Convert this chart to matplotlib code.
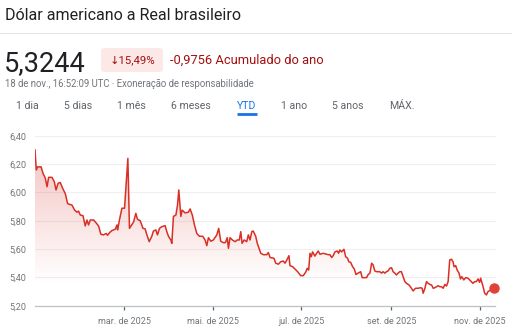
import numpy as np
import pandas as pd
import matplotlib
matplotlib.use("Agg")
import matplotlib.pyplot as plt
from matplotlib.patches import FancyBboxPatch
from matplotlib.lines import Line2D

plt.rcParams['font.family'] = ['Roboto', 'DejaVu Sans']

# ---------------- data ----------------
title = "Dólar americano a Real brasileiro"
price_text = "5,3244"
change_pct = "↓15,49%"
change_abs = "-0,9756 Acumulado do ano"
subtitle = "18 de nov., 16:52:09 UTC · Exoneração de responsabilidade"
tabs = ["1 dia", "5 dias", "1 mês", "6 meses", "YTD", "1 ano", "5 anos", "MÁX."]
active_tab = "YTD"

# days since 2025-01-01 and USD/BRL values
days = [-2.5, -1.6, -0.7, 1.7, 3.0, 4.6, 5.8, 6.9, 9.2, 10.8, 12.0, 13.4, 14.9, 16.5, 18.4,
        20.0, 23.0, 24.8, 26.4, 27.5, 28.7, 30.6, 32.1, 33.3, 34.4, 35.6, 37.9, 39.5, 41.3,
        42.9, 44.7, 46.6, 47.5, 48.9, 50.5, 52.8, 54.0, 54.4, 55.7, 57.4, 59.2, 61.5, 62.6,
        65.4, 67.0, 68.1, 70.0, 71.9, 73.4, 74.6, 76.2, 78.0, 79.1, 80.8, 81.9, 83.3, 84.9,
        87.2, 88.4, 89.5, 91.1, 91.8, 92.9, 94.6, 95.7, 96.6, 97.5, 98.0, 98.9, 100.9, 103.2,
        104.4, 105.9, 107.4, 109.0, 110.8, 113.1, 114.7, 115.9, 117.0, 118.7, 120.4, 122.8,
        124.1, 125.5, 127.3, 128.7, 130.0, 130.8, 131.9, 133.5, 135.4, 136.9, 138.3, 139.3,
        140.2, 141.6, 143.4, 144.5, 145.7, 146.9, 147.9, 149.6, 150.7, 152.1, 153.1, 154.9,
        157.2, 158.3, 159.5, 162.2, 163.4, 165.2, 166.8, 168.6, 169.8, 170.9, 172.5, 173.2,
        175.1, 176.6, 178.5, 180.6, 182.4, 184.2, 185.1, 186.1, 187.0, 187.9, 188.8, 190.4,
        191.6, 192.7, 193.9, 196.1, 198.5, 199.6, 200.8, 201.9, 203.0, 204.2, 205.8, 206.7,
        207.6, 208.8, 210.4, 211.6, 212.9, 213.8, 215.0, 216.4, 217.5, 218.7, 220.2, 221.9,
        223.0, 224.2, 226.0, 227.1, 228.3, 229.5, 230.5, 231.7, 232.9, 235.1, 236.3, 237.4,
        238.6, 239.7, 240.8, 242.0, 243.2, 244.3, 245.5, 246.6, 247.7, 248.9, 250.0, 251.2,
        252.4, 253.5, 255.3, 256.9, 258.1, 259.7, 261.5, 263.2, 264.3, 265.0, 266.2, 267.3,
        268.4, 269.6, 270.8, 271.9, 273.1, 274.2, 275.3, 276.5, 277.6, 278.8, 279.9, 281.1,
        282.2, 283.3, 284.5, 285.6, 286.3, 287.4, 288.4, 289.7, 290.7, 291.6, 293.0, 294.3,
        295.9, 297.1, 298.2, 299.3, 300.5, 301.7, 302.8, 303.9, 304.6, 305.6, 306.3, 307.4,
        308.6, 309.7, 311.4, 312.7, 313.8]
values = [6.300, 6.158, 6.180, 6.180, 6.135, 6.100, 6.040, 6.106, 6.106, 6.075, 6.017, 6.064,
          6.070, 6.030, 5.990, 5.920, 5.910, 5.875, 5.860, 5.868, 5.840, 5.835, 5.763, 5.805,
          5.770, 5.805, 5.805, 5.786, 5.763, 5.704, 5.700, 5.710, 5.697, 5.716, 5.730, 5.740,
          5.770, 5.735, 5.805, 5.888, 5.888, 6.240, 5.746, 5.790, 5.852, 5.810, 5.800, 5.746,
          5.742, 5.700, 5.652, 5.690, 5.727, 5.735, 5.700, 5.746, 5.758, 5.765, 5.720, 5.690,
          5.664, 5.640, 5.830, 5.840, 5.910, 6.017, 5.900, 5.830, 5.875, 5.855, 5.860, 5.883,
          5.840, 5.770, 5.710, 5.690, 5.690, 5.664, 5.624, 5.680, 5.655, 5.664, 5.700, 5.746,
          5.655, 5.645, 5.645, 5.680, 5.605, 5.680, 5.664, 5.652, 5.664, 5.664, 5.723, 5.640,
          5.664, 5.652, 5.700, 5.664, 5.723, 5.727, 5.690, 5.640, 5.600, 5.570, 5.560, 5.560,
          5.575, 5.540, 5.535, 5.500, 5.493, 5.510, 5.515, 5.500, 5.520, 5.553, 5.483, 5.475,
          5.460, 5.440, 5.412, 5.412, 5.440, 5.464, 5.452, 5.570, 5.546, 5.580, 5.550, 5.570,
          5.586, 5.563, 5.570, 5.563, 5.560, 5.560, 5.540, 5.553, 5.580, 5.586, 5.570, 5.593,
          5.580, 5.598, 5.546, 5.535, 5.510, 5.506, 5.475, 5.460, 5.420, 5.430, 5.440, 5.398,
          5.398, 5.398, 5.420, 5.430, 5.500, 5.488, 5.445, 5.440, 5.440, 5.430, 5.440, 5.430,
          5.440, 5.445, 5.464, 5.468, 5.440, 5.430, 5.417, 5.430, 5.440, 5.440, 5.405, 5.370,
          5.358, 5.346, 5.323, 5.304, 5.323, 5.323, 5.327, 5.323, 5.288, 5.323, 5.370, 5.358,
          5.350, 5.346, 5.323, 5.327, 5.334, 5.341, 5.334, 5.334, 5.323, 5.350, 5.339, 5.370,
          5.523, 5.528, 5.510, 5.475, 5.483, 5.452, 5.430, 5.389, 5.405, 5.382, 5.398, 5.394,
          5.382, 5.370, 5.358, 5.370, 5.370, 5.389, 5.365, 5.394, 5.358, 5.334, 5.288, 5.276,
          5.300, 5.310, 5.316, 5.3244]

tick_dates = ["2025-03-01", "2025-05-01", "2025-07-01", "2025-09-01", "2025-11-01"]
tick_labels = ["mar. de 2025", "mai. de 2025", "jul. de 2025", "set. de 2025", "nov. de 2025"]
y_ticks = [5.20, 5.40, 5.60, 5.80, 6.00, 6.20, 6.40]

# ---------------- figure ----------------
W, H = 512, 335
fig = plt.figure(figsize=(W / 100, H / 100), dpi=100)
fig.patch.set_facecolor("white")

def fx(px):
    return px / W

def fy(py):
    return 1 - py / H

RED = "#d93025"
DARKRED = "#a50e0e"
GRAY = "#70757a"

# header
fig.text(fx(5), fy(15), title, fontsize=11.5, color="#202124", va="center", ha="left")
fig.add_artist(Line2D([0, 1], [fy(32.5), fy(32.5)], color="#e6e6e6", lw=0.8,
                      transform=fig.transFigure))
fig.text(fx(4), fy(71), price_text, fontsize=19.5, color="#202124", va="baseline", ha="left")
box = FancyBboxPatch((fx(101), fy(72)), fx(62), 24 / H,
                     boxstyle="round,pad=0,rounding_size=0.008",
                     transform=fig.transFigure, facecolor="#fce8e6", edgecolor="none")
fig.add_artist(box)
fig.text(fx(132), fy(60), change_pct, fontsize=8.2, color=DARKRED, va="center", ha="center")
fig.text(fx(170), fy(60), change_abs, fontsize=9.3, color=DARKRED, va="center", ha="left")
fig.text(fx(5), fy(84), subtitle, fontsize=6.85, color=GRAY, va="center", ha="left")

tab_x = [27.5, 78, 131, 191, 246.5, 294.5, 348, 402]
for t, x in zip(tabs, tab_x):
    col = "#1a73e8" if t == active_tab else "#5f6368"
    fig.text(fx(x), fy(106), t, fontsize=7.6, color=col, va="center", ha="center")
    if t == active_tab:
        fig.add_artist(Line2D([fx(x - 10), fx(x + 10)], [fy(114), fy(114)], color="#1a73e8",
                              lw=2.0, transform=fig.transFigure, solid_capstyle="butt"))

# chart
ax = fig.add_axes([fx(35), fy(305.7), fx(495) - fx(35), (305.7 - 135.7) / H])
base = pd.Timestamp("2025-01-01")
x = np.array([base + pd.Timedelta(days=d) for d in days])
xd = matplotlib.dates.date2num(x)
y = np.array(values)

x0 = matplotlib.dates.date2num(base + pd.Timedelta(days=-2.5))
x1 = matplotlib.dates.date2num(base + pd.Timedelta(days=314.5))
ax.set_xlim(x0, x1)
ax.set_ylim(5.20, 6.40)

# gradient fill under the line
poly = ax.fill_between(xd, y, 5.20, facecolor="none", edgecolor="none")
n = 256
alpha = np.linspace(0.0, 1.0, n)
grad_lo, grad_hi = 5.35, 6.35
rgba = np.zeros((n, 1, 4))
rgba[..., 0] = 0.85
rgba[..., 1] = 0.19
rgba[..., 2] = 0.15
rgba[:, 0, 3] = 0.30 * alpha
im = ax.imshow(rgba, extent=[x0, x1, grad_lo, grad_hi], origin="lower", aspect="auto",
               zorder=1)
im.set_clip_path(poly.get_paths()[0], transform=ax.transData)

ax.plot(xd, y, color=RED, lw=1.1, zorder=3, solid_joinstyle="round")
ax.plot(xd[-1], y[-1], "o", color="#e04238", markersize=6.5, zorder=4, clip_on=False)

ax.set_yticks(y_ticks)
ax.set_yticklabels([f"{v:.2f}".replace(".", ",") for v in y_ticks])
ax.grid(axis="y", color="#efefef", lw=0.8, zorder=0)
ax.set_axisbelow(True)
ax.set_xticks(matplotlib.dates.date2num(pd.to_datetime(tick_dates)))
ax.set_xticklabels(tick_labels)

for s in ["top", "right", "left"]:
    ax.spines[s].set_visible(False)
ax.spines["bottom"].set_color("#bdc1c6")
ax.spines["bottom"].set_linewidth(0.9)
ax.tick_params(axis="y", length=0, pad=6, labelsize=6.5, labelcolor=GRAY)
ax.tick_params(axis="x", length=3, width=0.9, color="#5f6368", pad=5, labelsize=6.5,
               labelcolor=GRAY)
for gl in ax.get_ygridlines():
    gl.set_clip_on(False)

fig.savefig("out.png", dpi=100, facecolor="white")
